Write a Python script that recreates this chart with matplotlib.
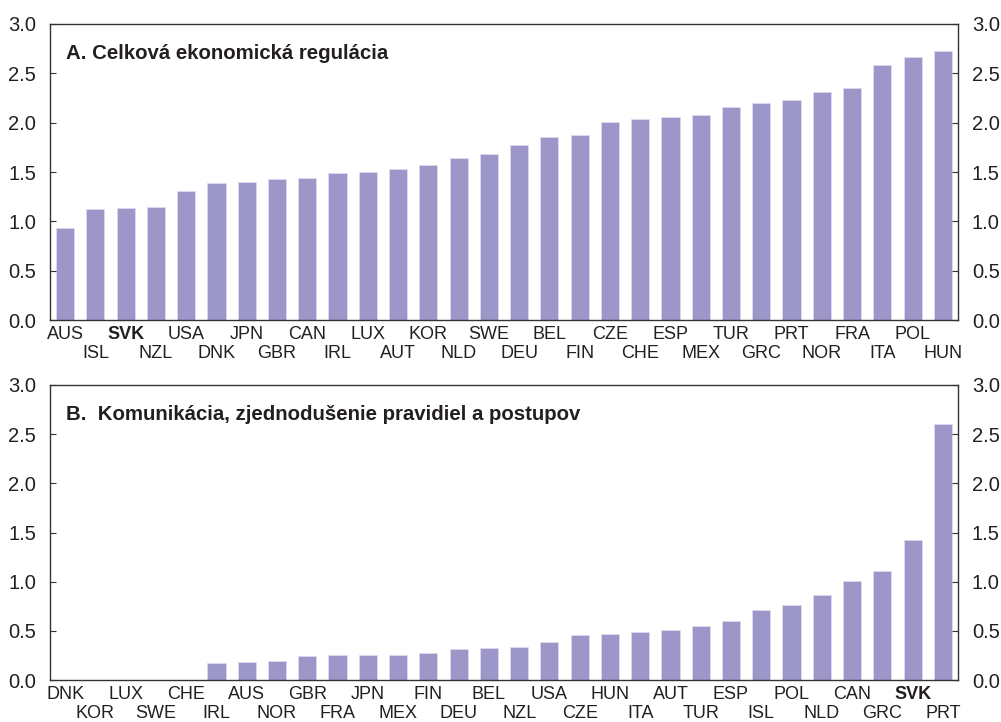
import numpy as np
import matplotlib
matplotlib.use('Agg')
import matplotlib.pyplot as plt
from matplotlib.ticker import MultipleLocator

plt.rcParams['font.family'] = ['Liberation Sans', 'DejaVu Sans']

# panel A: overall economic regulation
countries_a = ['AUS', 'ISL', 'SVK', 'NZL', 'USA', 'DNK', 'JPN', 'GBR', 'CAN', 'IRL',
               'LUX', 'AUT', 'KOR', 'NLD', 'SWE', 'DEU', 'BEL', 'FIN', 'CZE', 'CHE',
               'ESP', 'MEX', 'TUR', 'GRC', 'PRT', 'NOR', 'FRA', 'ITA', 'POL', 'HUN']
values_a = [0.93, 1.13, 1.14, 1.15, 1.31, 1.39, 1.40, 1.43, 1.44, 1.49,
            1.50, 1.53, 1.57, 1.64, 1.68, 1.77, 1.85, 1.87, 2.01, 2.04,
            2.06, 2.08, 2.16, 2.20, 2.23, 2.31, 2.35, 2.58, 2.67, 2.73]

# panel B: communication, simplification of rules and procedures
countries_b = ['DNK', 'KOR', 'LUX', 'SWE', 'CHE', 'IRL', 'AUS', 'NOR', 'GBR', 'FRA',
               'JPN', 'MEX', 'FIN', 'DEU', 'BEL', 'NZL', 'USA', 'CZE', 'HUN', 'ITA',
               'AUT', 'TUR', 'ESP', 'ISL', 'POL', 'NLD', 'CAN', 'GRC', 'SVK', 'PRT']
values_b = [0.0, 0.0, 0.0, 0.0, 0.0, 0.17, 0.18, 0.19, 0.24, 0.25,
            0.25, 0.25, 0.27, 0.32, 0.33, 0.34, 0.39, 0.46, 0.47, 0.49,
            0.51, 0.55, 0.60, 0.71, 0.76, 0.86, 1.01, 1.11, 1.42, 2.60]

titles = ['A. Celková ekonomická regulácia',
          'B.  Komunikácia, zjednodušenie pravidiel a postupov']

BAR_COLOR = '#9c96c9'
TEXT_COLOR = '#231f20'
SPINE_COLOR = '#333333'


def draw_panel(ax, countries, values, title):
    x = np.arange(len(countries))
    ax.bar(x, values, width=0.6, color=BAR_COLOR, edgecolor='#dcd9ef', linewidth=0.6)
    ax.set_xlim(-0.5, len(countries) - 0.5)
    ax.set_ylim(0, 3.0)
    ax.yaxis.set_major_locator(MultipleLocator(0.5))
    ax.yaxis.set_major_formatter(matplotlib.ticker.FormatStrFormatter('%.1f'))
    ax.tick_params(axis='y', which='both', direction='in', length=4, width=0.8,
                   left=True, right=True, labelleft=True, labelright=True,
                   labelsize=14.5, colors=SPINE_COLOR, labelcolor=TEXT_COLOR, pad=10)

    # alternate labels on two rows
    ax.set_xticks(x[::2], countries[::2])
    ax.set_xticks(x[1::2], countries[1::2], minor=True)
    ax.tick_params(axis='x', which='major', length=0, pad=4, labelsize=13, labelcolor=TEXT_COLOR)
    ax.tick_params(axis='x', which='minor', length=0, pad=18, labelsize=13, labelcolor=TEXT_COLOR)
    for lab in ax.get_xticklabels() + ax.get_xticklabels(minor=True):
        if lab.get_text() == 'SVK':
            lab.set_fontweight('bold')

    for sp in ax.spines.values():
        sp.set_color(SPINE_COLOR)
        sp.set_linewidth(1.0)

    ax.text(0.018, 0.9, title, transform=ax.transAxes, fontsize=14.7, fontweight='bold',
            color=TEXT_COLOR, ha='left', va='center')


fig = plt.figure(figsize=(10.01, 7.22), dpi=100)
ax_a = fig.add_axes([50 / 1001, 1 - 320 / 722, 908 / 1001, 296 / 722])
ax_b = fig.add_axes([50 / 1001, 1 - 680 / 722, 908 / 1001, 295 / 722])

draw_panel(ax_a, countries_a, values_a, titles[0])
draw_panel(ax_b, countries_b, values_b, titles[1])

fig.savefig('out.png', dpi=100, facecolor='white')
